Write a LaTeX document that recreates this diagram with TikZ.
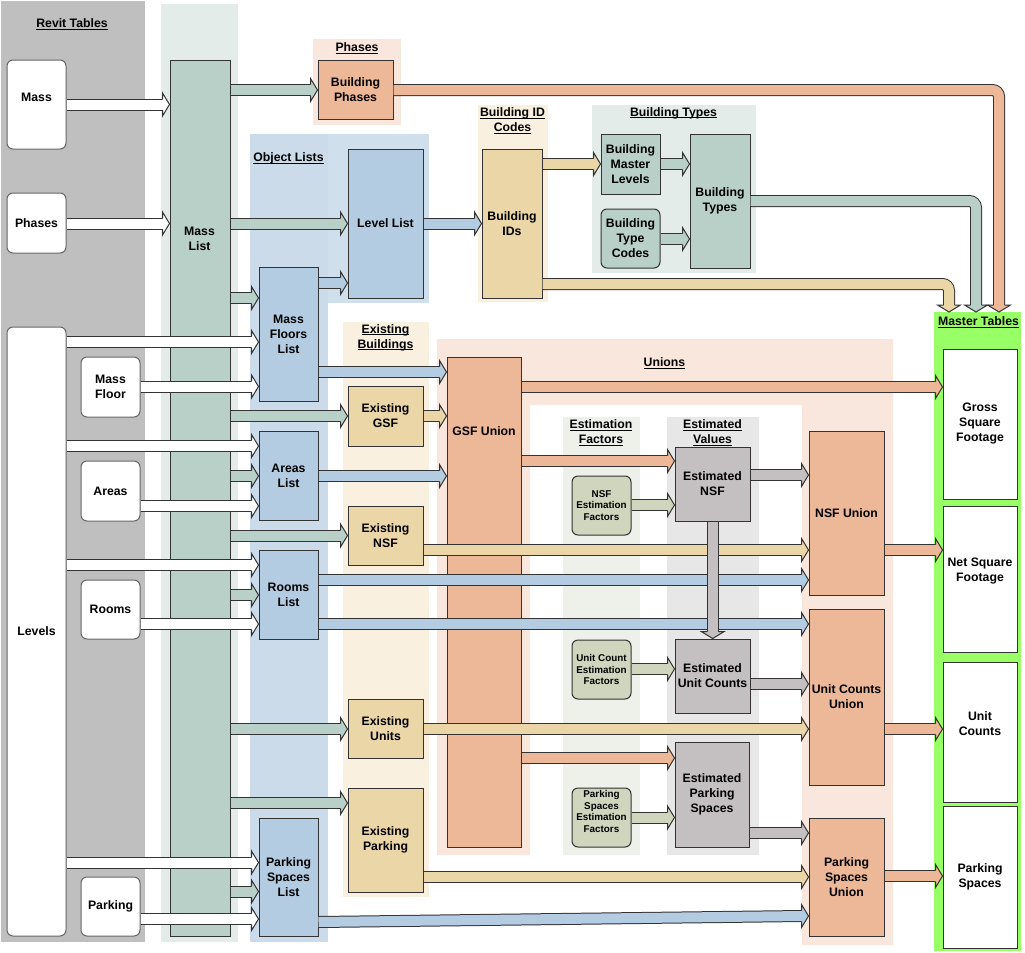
\documentclass[tikz,border=0pt]{standalone}
\usepackage{fontspec}
\setmainfont{Liberation Sans}
\usetikzlibrary{calc}

\definecolor{edgec}{HTML}{333333}
\definecolor{revitgray}{HTML}{BFBFBF}
\definecolor{panelgreen}{HTML}{E3ECE9}
\definecolor{panelorange}{HTML}{F9E6DC}
\definecolor{panelblue}{HTML}{CBDBEA}
\definecolor{panelblueb}{HTML}{D0DFEC}
\definecolor{paneltan}{HTML}{F9F0E0}
\definecolor{panelfactor}{HTML}{EEF0EA}
\definecolor{panelvalue}{HTML}{E8E7E8}
\definecolor{mastergreen}{HTML}{99FF66}
\definecolor{fgreen}{HTML}{B9D0C9}
\definecolor{forange}{HTML}{EDB898}
\definecolor{fblue}{HTML}{B4CCE1}
\definecolor{ftan}{HTML}{EBD6A8}
\definecolor{fgray}{HTML}{C4BFC0}
\definecolor{folive}{HTML}{D0D6BE}

% underline at a fixed depth below the baseline
\newsavebox\ulbox
\newcommand\ul[1]{\sbox\ulbox{#1}\rlap{\rule[-1.6pt]{\wd\ulbox}{0.6pt}}\usebox\ulbox}

\tikzset{
  panel/.style={fill=#1, draw=none, inner sep=0pt, outer sep=0pt},
  title/.style={font=\bfseries\fontsize{9.2}{11.25}\selectfont, align=center, inner sep=0pt},
  box/.style={fill=#1, draw=edgec, line width=0.75pt, inner sep=0pt, align=center,
    font=\bfseries\fontsize{9.2}{11.25}\selectfont},
  rbox/.style={box=#1, rounded corners=4.5pt},
  revit/.style={box=white, draw=black!60, rounded corners=4.5pt},
  small/.style={font=\bfseries\fontsize{7.4}{8.8}\selectfont},
  txt/.style={font=\bfseries\fontsize{9.2}{11.25}\selectfont, align=center, inner sep=0pt},
  band/.style={draw=edgec, line width=0.75pt, double=#1, double distance=7.5pt},
  pics/ahead/.style={code={
    \filldraw[fill=#1, draw=edgec, line width=0.75pt, line join=miter]
      (-7,-5.5) -- (-7,-11.5) -- (0,0) -- (-7,11.5) -- (-7,5.5);}},
}

% box spanning two corners (pixel units, y downwards)
\newcommand\bx[7]{\node[#1, minimum width={(#5-#3)*0.75pt}, minimum height={(#6-#4)*0.75pt}]
  (#2) at ({(#3+#5)/2},{(#4+#6)/2}) {#7};}
% horizontal block arrow: colour, source node, target node, height
\newcommand\harr[4]{%
  \draw[band=#1] (#2.east |- 0,#4) -- ($(#3.west |- 0,#4)+(-6.5,0)$);
  \pic at (#3.west |- 0,#4) {ahead=#1};}

\begin{document}
\begin{tikzpicture}[x=0.75pt,y=-0.75pt]
\fill[white] (0,0) rectangle (1025,953);
\useasboundingbox (0,0) rectangle (1025,953);

% ---------- background groups ----------
\bx{panel=revitgray}{revitP}{1}{1}{145}{942}{}
\bx{panel=panelgreen}{masslistP}{161}{4}{238}{942}{}
\bx{panel=panelorange}{phasesP}{313}{39}{401}{125}{}
\bx{panel=panelblue}{objP}{250}{134}{328}{942}{}
\bx{panel=panelblueb}{objPb}{328}{134}{429}{303}{}
\bx{panel=paneltan}{bidP}{478}{105}{548}{302}{}
\bx{panel=panelgreen}{btP}{592}{105}{756}{273}{}
\bx{panel=paneltan}{exP}{343}{322}{429}{897}{}
\fill[panelorange] (437,339) -- (893,339) -- (893,945) -- (802,945) -- (802,405)
  -- (530,405) -- (530,855) -- (437,855) -- cycle;
\bx{panel=panelfactor}{efP}{563}{417}{640}{855}{}
\bx{panel=panelvalue}{evP}{667}{417}{759}{855}{}
\bx{panel=mastergreen}{master}{934}{312}{1021}{951}{}

% ---------- group titles ----------
\node[title] (tRevit) at (72,24) {\ul{Revit Tables}};
\node[title] (tPhases) at (357,48) {\ul{Phases}};
\node[title] (tObj) at (288.5,158) {\ul{Object Lists}};
\node[title] (tBid) at (512.5,121) {\ul{Building ID}\\\ul{Codes}};
\node[title] (tBt) at (673.5,113) {\ul{Building Types}};
\node[title] (tEx) at (385.5,337.5) {\ul{Existing}\\\ul{Buildings}};
\node[title] (tUnions) at (664.5,363) {\ul{Unions}};
\node[title] (tEf) at (601,433) {\ul{Estimation}\\\ul{Factors}};
\node[title] (tEv) at (712.5,433) {\ul{Estimated}\\\ul{Values}};
\node[title] (tMaster) at (978.5,322) {\ul{Master Tables}};

% ---------- Revit tables ----------
\bx{revit}{mass}{7}{60}{66}{149}{}
\node[txt] (massT) at (36.5,97) {Mass};
\bx{revit}{phases}{7}{193}{66}{253}{Phases}
\bx{revit}{levels}{7}{327}{66}{936}{Levels}
\bx{revit}{massfloor}{81}{357}{140}{417}{Mass\\Floor}
\bx{revit}{areas}{81}{461}{140}{521}{Areas}
\bx{revit}{rooms}{81}{580}{140}{639}{Rooms}
\bx{revit}{parking}{81}{877}{140}{936}{Parking}

% ---------- processing boxes ----------
\bx{box=fgreen}{masslist}{170}{60}{230}{936}{}
\node[txt] (masslistT) at (199.5,239) {Mass\\List};
\bx{box=forange}{bphases}{318}{60}{393}{119}{Building\\Phases}
\bx{box=fblue}{levellist}{348}{149}{423}{298}{Level List}
\bx{box=ftan}{bids}{482}{149}{542}{298}{Building\\IDs}
\bx{box=fgreen}{bml}{601}{134}{660}{194}{Building\\Master\\Levels}
\bx{rbox=fgreen}{btc}{601}{209}{660}{268}{Building\\Type\\Codes}
\bx{box=fgreen}{btypes}{690}{134}{750}{268}{Building\\Types}
\bx{box=fblue}{mfl}{259}{267}{318}{401}{Mass\\Floors\\List}
\bx{box=ftan}{exgsf}{348}{386}{423}{446}{Existing\\GSF}
\bx{box=fblue}{areasl}{259}{431}{318}{520}{Areas\\List}
\bx{box=ftan}{exnsf}{348}{506}{423}{565}{Existing\\NSF}
\bx{box=fblue}{roomsl}{259}{550}{318}{639}{Rooms\\List}
\bx{box=ftan}{exunits}{348}{699}{423}{758}{Existing\\Units}
\bx{box=ftan}{exparking}{348}{788}{423}{892}{Existing\\Parking}
\bx{box=fblue}{psl}{259}{818}{318}{936}{Parking\\Spaces\\List}
\bx{box=forange}{gsfu}{447}{357}{521}{847}{}
\node[txt] (gsfuT) at (484,431) {GSF Union};
\bx{rbox=folive,small}{nsfef}{572}{476}{631}{535}{NSF\\Estimation\\Factors}
\bx{rbox=folive,small}{ucef}{572}{640}{631}{699}{Unit Count\\Estimation\\Factors}
\bx{rbox=folive,small}{psef}{572}{788}{631}{847}{}
\node[txt,small] (psefT) at (601.5,811.5) {Parking\\Spaces\\Estimation\\Factors};
\bx{box=fgray}{estnsf}{675}{447}{750}{521}{Estimated\\NSF}
\bx{box=fgray}{estuc}{675}{639}{750}{713}{Estimated\\Unit Counts}
\bx{box=fgray}{estps}{675}{742}{749}{847}{Estimated\\Parking\\Spaces}
\bx{box=forange}{nsfu}{809}{431}{884}{595}{NSF Union}
\bx{box=forange}{ucu}{809}{609}{884}{785}{Unit Counts\\Union}
\bx{box=forange}{psu}{809}{818}{884}{936}{Parking\\Spaces\\Union}

% ---------- master tables ----------
\bx{box=white}{gsf}{943}{349}{1017}{499}{Gross\\Square\\Footage}
\bx{box=white}{nsf}{943}{506}{1017}{652}{}
\node[txt] (nsfT) at (980,571) {Net Square\\Footage};
\bx{box=white}{uc}{943}{662}{1017}{802}{}
\node[txt] (ucT) at (980,724) {Unit\\Counts};
\bx{box=white}{ps}{943}{806}{1017}{948}{Parking\\Spaces}

% ---------- Revit tables into lists ----------
\harr{white}{mass}{masslist}{104.5}
\harr{white}{phases}{masslist}{223.5}
\harr{white}{levels}{mfl}{342}
\harr{white}{massfloor}{mfl}{386.5}
\harr{white}{levels}{areasl}{446}
\harr{white}{areas}{areasl}{506}
\harr{white}{levels}{roomsl}{565}
\harr{white}{rooms}{roomsl}{624}
\harr{white}{levels}{psl}{862.5}
\harr{white}{parking}{psl}{919}

% ---------- out of the mass list ----------
\harr{fgreen}{masslist}{bphases}{90}
\harr{fgreen}{masslist}{levellist}{223.5}
\harr{fgreen}{masslist}{mfl}{298}
\harr{fgreen}{masslist}{exgsf}{416}
\harr{fgreen}{masslist}{areasl}{476}
\harr{fgreen}{masslist}{exnsf}{535.5}
\harr{fgreen}{masslist}{roomsl}{595}
\harr{fgreen}{masslist}{exunits}{729}
\harr{fgreen}{masslist}{exparking}{803}
\harr{fgreen}{masslist}{psl}{891.5}

% ---------- building codes ----------
\harr{fblue}{mfl}{levellist}{283}
\harr{fblue}{levellist}{bids}{223.5}
\harr{ftan}{bids}{bml}{164}
\harr{fgreen}{bml}{btypes}{164}
\harr{fgreen}{btc}{btypes}{239}

% ---------- unions and estimates ----------
\harr{fblue}{mfl}{gsfu}{372}
\harr{ftan}{exgsf}{gsfu}{416}
\harr{fblue}{areasl}{gsfu}{476}
\harr{ftan}{exnsf}{nsfu}{550}
\harr{fblue}{roomsl}{nsfu}{580}
\harr{fblue}{roomsl}{ucu}{624}
\harr{forange}{gsfu}{gsf}{387}
\harr{forange}{gsfu}{estnsf}{461}
\harr{folive}{nsfef}{estnsf}{505}
\harr{fgray}{estnsf}{nsfu}{475}
\harr{folive}{ucef}{estuc}{669}
\harr{fgray}{estuc}{ucu}{684}
\harr{ftan}{exunits}{ucu}{729}
\harr{forange}{gsfu}{estps}{758}
\harr{folive}{psef}{estps}{817.5}
\harr{fgray}{estps}{psu}{833}
\harr{ftan}{exparking}{psu}{877}
\draw[band=fblue] (psl.east |- 0,922) -- ($(psu.west |- 0,916)+(-6.5,0)$);
\pic at (psu.west |- 0,916) {ahead=fblue};
\harr{forange}{nsfu}{nsf}{550}
\harr{forange}{ucu}{uc}{729}
\harr{forange}{psu}{ps}{876}

% ---------- bent connectors into the master tables ----------
\draw[band=forange, rounded corners=5pt] (bphases.east |- 0,90) -| ($(master.north -| 999,0)+(0,-6.5)$);
\pic[rotate=-90] at (master.north -| 999,0) {ahead=forange};
\draw[band=fgreen, rounded corners=5pt] (btypes.east |- 0,201) -| ($(master.north -| 976,0)+(0,-6.5)$);
\pic[rotate=-90] at (master.north -| 976,0) {ahead=fgreen};
\draw[band=ftan, rounded corners=5pt] (bids.east |- 0,284) -| ($(master.north -| 949,0)+(0,-6.5)$);
\pic[rotate=-90] at (master.north -| 949,0) {ahead=ftan};

% ---------- estimated NSF feeds the unit count estimate ----------
\draw[band=fgray] (estnsf.south -| 712.7,0) -- ($(estuc.north -| 712.7,0)+(0,-6.5)$);
\pic[rotate=-90] at (estuc.north -| 712.7,0) {ahead=fgray};
\end{tikzpicture}
\end{document}
